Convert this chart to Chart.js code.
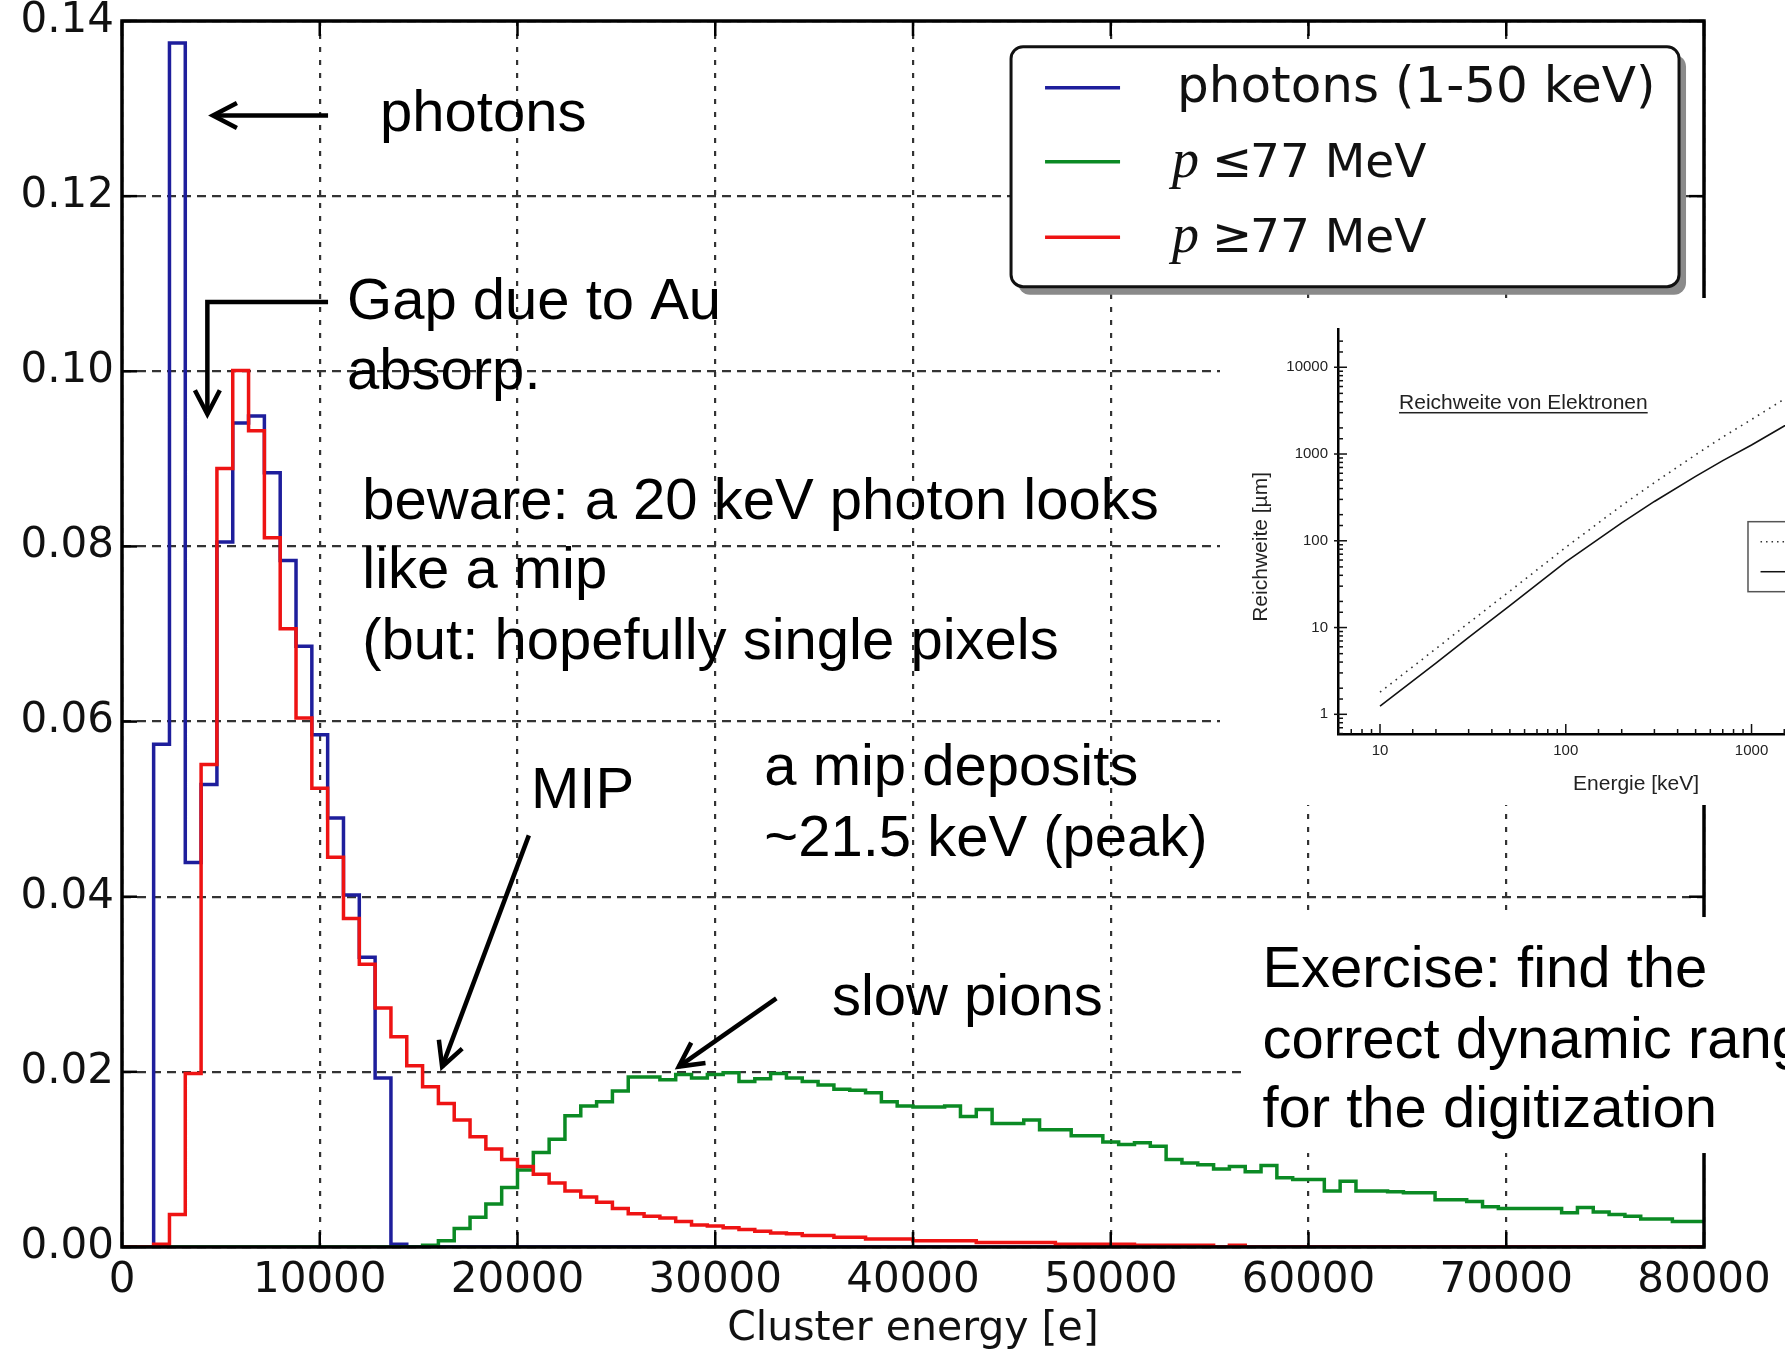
<!DOCTYPE html>
<html><head><meta charset="utf-8">
<script src="https://cdn.jsdelivr.net/npm/chart.js@4.4.1/dist/chart.umd.min.js"></script>
<style>
html,body{margin:0;padding:0;background:#fff;overflow:hidden;}
#wrap{position:relative;width:1785px;height:1354px;overflow:hidden;}
#main{position:absolute;left:0;top:0;}
#inset{position:absolute;left:1220px;top:298px;}
</style></head><body>
<div id="wrap">
<canvas id="main" width="1785" height="1354"></canvas>
<canvas id="inset" width="565" height="507"></canvas>
</div>
<script>
// ---------------- data ----------------
const binWidth = 800;   // e per histogram bin (0 .. 80000, 100 bins)
const xTicks = [0, 10000, 20000, 30000, 40000, 50000, 60000, 70000, 80000];
const xTickLabels = ['0','10000','20000','30000','40000','50000','60000','70000','80000'];
const yTicks = [0, 0.02, 0.04, 0.06, 0.08, 0.10, 0.12, 0.14];
const yTickLabels = ['0.00','0.02','0.04','0.06','0.08','0.10','0.12','0.14'];
const xAxisTitle = 'Cluster energy [e]';
const seriesNames = ['photons (1-50 keV)', 'p\u226477 MeV', 'p\u226577 MeV'];

const photons = [
 0, 0, 0.0574, 0.1375, 0.0439, 0.0528, 0.0805, 0.0941, 0.0949, 0.0884,
 0.0784, 0.0686, 0.0585, 0.0490, 0.0402, 0.0331, 0.0193, 0.0003, 0, 0,
 0, 0, 0, 0, 0, 0, 0, 0, 0, 0,
 0, 0, 0, 0, 0, 0, 0, 0, 0, 0,
 0, 0, 0, 0, 0, 0, 0, 0, 0, 0,
 0, 0, 0, 0, 0, 0, 0, 0, 0, 0,
 0, 0, 0, 0, 0, 0, 0, 0, 0, 0,
 0, 0, 0, 0, 0, 0, 0, 0, 0, 0,
 0, 0, 0, 0, 0, 0, 0, 0, 0, 0,
 0, 0, 0, 0, 0, 0, 0, 0, 0, 0
];
const slowParticles = [   // p <= 77 MeV
 0, 0, 0, 0, 0, 0, 0, 0, 0, 0,
 0, 0, 0, 0, 0, 0, 0, 0, 0, 0.0002,
 0.0007, 0.0021, 0.0034, 0.0049, 0.0068, 0.0088, 0.0108, 0.0123, 0.0150, 0.0161,
 0.0166, 0.0178, 0.0194, 0.0194, 0.0191, 0.0197, 0.0193, 0.0197, 0.0199, 0.0189,
 0.0192, 0.0198, 0.0193, 0.0189, 0.0185, 0.0180, 0.0179, 0.0176, 0.0166, 0.0161,
 0.0160, 0.0160, 0.0161, 0.0149, 0.0157, 0.0141, 0.0141, 0.0145, 0.0134, 0.0134,
 0.0127, 0.0127, 0.0120, 0.0117, 0.0119, 0.0115, 0.0100, 0.0096, 0.0094, 0.0089,
 0.0092, 0.0086, 0.0093, 0.0079, 0.0077, 0.0077, 0.0064, 0.0075, 0.0064, 0.0064,
 0.0063, 0.0062, 0.0062, 0.0054, 0.0054, 0.0052, 0.0046, 0.0044, 0.0044, 0.0044,
 0.0044, 0.0039, 0.0045, 0.0040, 0.0037, 0.0035, 0.0032, 0.0032, 0.0029, 0.0029
];
const fastParticles = [   // p >= 77 MeV
 0, 0, 0.0003, 0.0037, 0.0198, 0.0551, 0.0889, 0.1001, 0.0932, 0.0810,
 0.0706, 0.0604, 0.0524, 0.0445, 0.0375, 0.0323, 0.0273, 0.0240, 0.0207, 0.0183,
 0.0164, 0.0145, 0.0126, 0.0112, 0.0100, 0.0092, 0.0083, 0.0073, 0.0064, 0.0057,
 0.0051, 0.0044, 0.0038, 0.0035, 0.0033, 0.0029, 0.0025, 0.0024, 0.0022, 0.0020,
 0.0018, 0.0016, 0.0015, 0.0013, 0.0013, 0.0011, 0.0011, 0.0009, 0.0009, 0.0009,
 0.0007, 0.0007, 0.0007, 0.0007, 0.0005, 0.0005, 0.0005, 0.0005, 0.0005, 0.0003,
 0.0003, 0.0003, 0.0003, 0.0003, 0.0002, 0.0002, 0.0002, 0.0002, 0.0002, 0,
 0.0002, 0, 0, 0, 0, 0, 0, 0, 0, 0,
 0, 0, 0, 0, 0, 0, 0, 0, 0, 0,
 0, 0, 0, 0, 0, 0, 0, 0, 0, 0
];

// annotation texts (anchors in data units: x in e, y in fraction)
const notes = [
  {text:'photons', x:13050, y:0.1274},
  {text:'Gap due to Au', x:11380, y:0.1060},
  {text:'absorp.', x:11380, y:0.0980},
  {text:'beware: a 20 keV photon looks', x:12150, y:0.0831},
  {text:'like a mip', x:12150, y:0.0752},
  {text:'(but: hopefully single pixels', x:12150, y:0.0671},
  {text:'MIP', x:20680, y:0.0501},
  {text:'a mip deposits', x:32480, y:0.0528},
  {text:'~21.5 keV (peak)', x:32480, y:0.0446},
  {text:'slow pions', x:35900, y:0.0265},
  {text:'Exercise: find the', x:57670, y:0.0297},
  {text:'correct dynamic range', x:57670, y:0.0216},
  {text:'for the digitization', x:57670, y:0.0137}
];
const arrows = [
  [[10420, 0.1292], [4600, 0.1292]],
  [[10420, 0.1079], [4317, 0.1079], [4317, 0.0951]],
  [[20573, 0.0470], [16189, 0.0206]],
  [[33088, 0.0284], [28153, 0.0206]]
];
const exerciseBox = {x0:56638, y0:0.03768, y1:0.01073};
const legendBox = {x0:44958, y0:0.13706, x1:78737, y1:0.10966};

// inset: electron range
const insetTitle = 'Reichweite von Elektronen';
const insetXTitle = 'Energie [keV]';
const insetYTitle = 'Reichweite [\u00b5m]';
const insetEnergy = [10, 20, 30, 50, 100, 200, 300, 500, 700, 1000, 1500, 2000];
const rangeDotted = [1.8, 5.7, 11.3, 26.3, 84, 255, 468, 980, 1570, 2500, 4300, 6200];
const rangeSolid  = [1.24, 3.9, 7.7, 17.9, 57, 161, 284, 552, 840, 1270, 2100, 2960];

// ---------------- helpers ----------------
const seriesColors = ['#1e1e9c', '#0b8a24', '#ee1313'];
function stepPoints(values) {
  const pts = values.map((v, i) => ({x: i * binWidth, y: v}));
  pts.push({x: values.length * binWidth, y: values[values.length - 1]});
  return pts;
}
const SANS = '"DejaVu Sans", sans-serif';
const ARIAL = '"Liberation Sans", Arial, sans-serif';

function line(ctx, x1, y1, x2, y2) { ctx.beginPath(); ctx.moveTo(x1, y1); ctx.lineTo(x2, y2); ctx.stroke(); }
function rrect(ctx, x, y, w, h, r) {
  ctx.beginPath(); ctx.moveTo(x + r, y);
  ctx.arcTo(x + w, y, x + w, y + h, r); ctx.arcTo(x + w, y + h, x, y + h, r);
  ctx.arcTo(x, y + h, x, y, r); ctx.arcTo(x, y, x + w, y, r); ctx.closePath();
}

const overlayPlugin = {
  id: 'overlay',
  afterDraw(chart) {
    const {ctx, chartArea: a, scales: {x, y}} = chart;
    const X = v => x.getPixelForValue(v), Y = v => y.getPixelForValue(v);
    ctx.save();
    // frame
    ctx.strokeStyle = '#000'; ctx.lineWidth = 3.5; ctx.setLineDash([]);
    ctx.strokeRect(a.left, a.top, a.right - a.left, a.bottom - a.top);
    // inside ticks
    ctx.lineWidth = 2.5;
    xTicks.forEach(v => { const p = X(v); line(ctx, p, a.bottom, p, a.bottom - 15); line(ctx, p, a.top, p, a.top + 15); });
    yTicks.forEach(v => { const p = Y(v); line(ctx, a.left, p, a.left + 15, p); line(ctx, a.right, p, a.right - 15, p); });
    // white box behind the exercise text
    ctx.fillStyle = '#fff';
    const bx = X(exerciseBox.x0), by = Y(exerciseBox.y0), bb = Y(exerciseBox.y1);
    ctx.fillRect(bx, by, chart.width - bx, bb - by);
    // notes
    ctx.fillStyle = '#000'; ctx.font = '58px ' + ARIAL; ctx.textAlign = 'left'; ctx.textBaseline = 'alphabetic';
    notes.forEach(n => ctx.fillText(n.text, X(n.x), Y(n.y)));
    // arrows
    ctx.strokeStyle = '#000'; ctx.lineWidth = 4.5; ctx.lineJoin = 'miter'; ctx.lineCap = 'butt';
    arrows.forEach(arr => {
      const pts = arr.map(p => [X(p[0]), Y(p[1])]);
      ctx.beginPath(); ctx.moveTo(pts[0][0], pts[0][1]);
      for (let i = 1; i < pts.length; i++) ctx.lineTo(pts[i][0], pts[i][1]);
      ctx.stroke();
      const [x1, y1] = pts[pts.length - 2], [x2, y2] = pts[pts.length - 1];
      const ang = Math.atan2(y2 - y1, x2 - x1), L = 27, A = 0.48;
      ctx.beginPath();
      ctx.moveTo(x2 - L * Math.cos(ang - A), y2 - L * Math.sin(ang - A));
      ctx.lineTo(x2, y2);
      ctx.lineTo(x2 - L * Math.cos(ang + A), y2 - L * Math.sin(ang + A));
      ctx.stroke();
    });
    // legend
    const LX = X(legendBox.x0), LY = Y(legendBox.y0), LW = X(legendBox.x1) - LX, LH = Y(legendBox.y1) - LY;
    ctx.fillStyle = '#8a8a8a'; rrect(ctx, LX + 7, LY + 8, LW, LH, 12); ctx.fill();
    ctx.fillStyle = '#fff'; rrect(ctx, LX, LY, LW, LH, 12); ctx.fill();
    ctx.strokeStyle = '#111'; ctx.lineWidth = 3; ctx.stroke();
    const rowY = [41, 115, 190.6], baseY = [55, 130, 205.6];
    chart.data.datasets.forEach((ds, i) => {
      ctx.strokeStyle = ds.borderColor; ctx.lineWidth = 3.5;
      line(ctx, LX + 34, LY + rowY[i], LX + 109, LY + rowY[i]);
      ctx.fillStyle = '#111';
      const name = ds.label;
      if (name[0] === 'p' && (name[1] === '\u2264' || name[1] === '\u2265')) {
        ctx.font = 'italic 54px "Liberation Serif", serif';
        ctx.fillText('p', LX + 161, LY + baseY[i]);
        ctx.font = '48px ' + SANS;
        ctx.fillText(name[1], LX + 201, LY + baseY[i]);
        ctx.font = '47px ' + SANS;
        ctx.fillText(name.slice(2), LX + 239, LY + baseY[i]);
      } else {
        ctx.font = '50px ' + SANS;
        ctx.fillText(name, LX + 166, LY + baseY[i]);
      }
    });
    ctx.restore();
  }
};

new Chart(document.getElementById('main'), {
  type: 'line',
  data: {
    datasets: [
      {label: seriesNames[0], data: stepPoints(photons), borderColor: seriesColors[0], order: 2},
      {label: seriesNames[1], data: stepPoints(slowParticles), borderColor: seriesColors[1], order: 1},
      {label: seriesNames[2], data: stepPoints(fastParticles), borderColor: seriesColors[2], order: 0}
    ]
  },
  options: {
    responsive: false, animation: false, devicePixelRatio: 1,
    layout: {padding: {left: 0, top: 21, right: 81, bottom: 0}},
    elements: {
      point: {radius: 0, hoverRadius: 0},
      line: {tension: 0, borderWidth: 3.5, fill: false, stepped: 'before', borderJoinStyle: 'miter', borderCapStyle: 'butt'}
    },
    plugins: {legend: {display: false}, tooltip: {enabled: false}, title: {display: false}},
    scales: {
      x: {
        type: 'linear', min: 0, max: 80000,
        afterBuildTicks: s => { s.ticks = xTicks.map(v => ({value: v})); },
        ticks: {autoSkip: false, maxRotation: 0, padding: 9, color: '#111',
                font: {family: SANS, size: 42}, callback: (v, i) => xTickLabels[i]},
        grid: {color: '#333', lineWidth: 2.2, drawTicks: false},
        border: {display: false, dash: [5, 8]},
        title: {display: true, text: xAxisTitle, color: '#111', font: {family: SANS, size: 41}, padding: 0},
        afterFit: s => { s.height = 107; s.paddingLeft = 0; s.paddingRight = 0; }
      },
      y: {
        type: 'linear', min: 0, max: 0.14,
        afterBuildTicks: s => { s.ticks = yTicks.map(v => ({value: v})); },
        ticks: {autoSkip: false, padding: 8, color: '#111',
                font: {family: SANS, size: 42}, callback: (v, i) => yTickLabels[i]},
        grid: {color: '#333', lineWidth: 2.2, drawTicks: false},
        border: {display: false, dash: [9, 6]},
        afterFit: s => { s.width = 122; s.paddingTop = 0; s.paddingBottom = 0; }
      }
    }
  },
  plugins: [overlayPlugin]
});

// ---------------- inset chart ----------------
const isDecade = v => v > 0 && Math.abs(Math.log10(v) - Math.round(Math.log10(v))) < 1e-9;
const insetPlugin = {
  id: 'insetDecor',
  beforeDraw(chart) {
    const ctx = chart.ctx; ctx.save(); ctx.fillStyle = '#fff'; ctx.fillRect(0, 0, chart.width, chart.height); ctx.restore();
  },
  afterDraw(chart) {
    const {ctx, chartArea: a, scales: {x, y}} = chart;
    const X = v => x.getPixelForValue(v), Y = v => y.getPixelForValue(v);
    ctx.save();
    ctx.strokeStyle = '#111'; ctx.lineWidth = 1.5;
    x.ticks.slice(1, -1).forEach(t => { const p = X(t.value); line(ctx, p, a.bottom, p, a.bottom - (isDecade(t.value) ? 10 : 5)); });
    y.ticks.slice(1, -1).forEach(t => { const p = Y(t.value); line(ctx, a.left - (isDecade(t.value) ? 4 : 0), p, a.left + (isDecade(t.value) ? 9 : 5), p); });
    ctx.fillStyle = '#222'; ctx.font = '21px ' + ARIAL; ctx.textBaseline = 'alphabetic';
    // title (underlined)
    ctx.textAlign = 'left';
    const tx = X(12.66), ty = Y(3305);
    ctx.fillText(insetTitle, tx, ty);
    ctx.fillRect(tx, ty + 3, ctx.measureText(insetTitle).width, 1.5);
    // x title
    ctx.textAlign = 'center';
    ctx.fillText(insetXTitle, X(239), a.bottom + 56);
    // y title
    ctx.save(); ctx.translate(a.left - 77, Y(85)); ctx.rotate(-Math.PI / 2);
    ctx.textBaseline = 'middle'; ctx.fillText(insetYTitle, 0, 0); ctx.restore();
    // legend box (partly outside)
    const bx = X(957), by = Y(166), bb = Y(25.9);
    ctx.strokeStyle = '#555'; ctx.lineWidth = 1.5; ctx.strokeRect(bx, by, 80, bb - by);
    ctx.strokeStyle = '#333'; ctx.setLineDash([1.5, 4]); line(ctx, X(1118), Y(97.6), chart.width, Y(97.6));
    ctx.setLineDash([]); ctx.strokeStyle = '#111'; line(ctx, X(1118), Y(44), chart.width, Y(44));
    ctx.restore();
  }
};

new Chart(document.getElementById('inset'), {
  type: 'line',
  data: {
    datasets: [
      {label: 'dotted', data: insetEnergy.map((e, i) => ({x: e, y: rangeDotted[i]})),
       borderColor: '#333', borderWidth: 1.6, borderDash: [1.6, 5], pointRadius: 0, tension: 0},
      {label: 'solid', data: insetEnergy.map((e, i) => ({x: e, y: rangeSolid[i]})),
       borderColor: '#111', borderWidth: 1.6, pointRadius: 0, tension: 0}
    ]
  },
  options: {
    responsive: false, animation: false, devicePixelRatio: 1,
    layout: {padding: {left: 0, top: 31, right: 0, bottom: 0}},
    plugins: {legend: {display: false}, tooltip: {enabled: false}},
    scales: {
      x: {
        type: 'logarithmic', min: 5.94, max: 1514,
        ticks: {autoSkip: false, maxRotation: 0, padding: 8, color: '#222', font: {family: ARIAL, size: 15},
                callback: v => isDecade(v) ? String(Math.round(v)) : ''},
        grid: {display: false, drawTicks: false},
        border: {display: true, color: '#000', width: 2.5},
        afterFit: s => { s.height = 71; s.paddingLeft = 0; s.paddingRight = 0; }
      },
      y: {
        type: 'logarithmic', min: 0.593, max: 27600,
        ticks: {autoSkip: false, padding: 10, color: '#222', font: {family: ARIAL, size: 15},
                callback: v => isDecade(v) ? String(Math.round(v)) : ''},
        grid: {display: false, drawTicks: false},
        border: {display: true, color: '#000', width: 2.5},
        afterFit: s => { s.width = 118; s.paddingTop = 0; s.paddingBottom = 0; }
      }
    }
  },
  plugins: [insetPlugin]
});
</script>
</body></html>
